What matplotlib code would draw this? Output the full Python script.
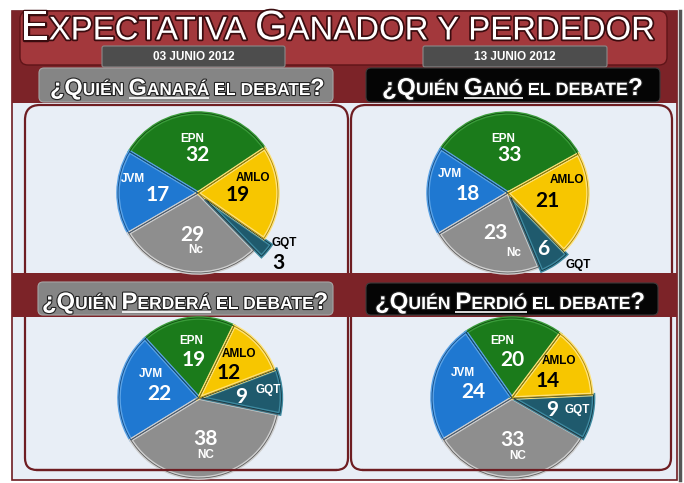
import matplotlib
matplotlib.use("Agg")
import matplotlib.pyplot as plt
import matplotlib.patheffects as pe
from matplotlib.patches import FancyBboxPatch, Rectangle, Wedge
import numpy as np

# -----------------------------
# data
# -----------------------------
names_a = ["EPN", "JVM", "Nc", "GQT", "AMLO"]
names_b = ["EPN", "JVM", "NC", "GQT", "AMLO"]
ganara = [32, 17, 29, 3, 19]
gano = [33, 18, 23, 6, 21]
perdera = [19, 22, 38, 9, 12]
perdio = [20, 24, 33, 9, 14]

fechas = ["03 JUNIO 2012", "13 JUNIO 2012"]

face = ["#1b7b1b", "#1f78d1", "#8e8e8e", "#1f5a6d", "#f7c600"]
rim = ["#3a9c3a", "#5aa2e6", "#cfcfcf", "#3f8aa0", "#ffe27a"]
dark = ["#0e4a0e", "#114a85", "#5c5c5c", "#0f3442", "#a88400"]

W, H = 684, 483
RED = "#7c2328"
HEAD = "#a3383c"
LIGHT = "#e8eef6"
BORDER = "#6e1d22"

fig = plt.figure(figsize=(W / 100, H / 100), dpi=100)
bg = fig.add_axes([0, 0, 1, 1])
bg.set_xlim(0, W)
bg.set_ylim(H, 0)
bg.axis("off")
renderer = fig.canvas.get_renderer()


def rbox(x0, y0, x1, y1, r, fc, ec="none", lw=0, z=2):
    p = FancyBboxPatch((x0, y0), x1 - x0, y1 - y0,
                       boxstyle=f"round,pad=0,rounding_size={r}",
                       fc=fc, ec=ec, lw=lw, zorder=z)
    bg.add_patch(p)


def caps_line(parts, x0, x1, ybase, big, small, family, weight, effects, z=8):
    # parts: (text, big?, underline?, space after?)
    texts = []
    for s, is_big, under, gap in parts:
        t = bg.text(0, ybase, s, fontsize=big if is_big else small, family=family,
                    weight=weight, color="white", ha="left", va="baseline",
                    path_effects=effects, zorder=z)
        texts.append(t)

    def measure(k):
        ws = [t.get_window_extent(renderer).width for t in texts]
        a = bg.text(0, 0, "I I", fontsize=small * k, family=family, weight=weight)
        b = bg.text(0, 0, "II", fontsize=small * k, family=family, weight=weight)
        sp = a.get_window_extent(renderer).width - b.get_window_extent(renderer).width
        a.remove()
        b.remove()
        return ws, sp

    ws, sp = measure(1.0)
    total = sum(ws) + sp * sum(1 for p in parts if p[3])
    k = (x1 - x0) / total
    for t in texts:
        t.set_fontsize(t.get_fontsize() * k)
    ws, sp = measure(k)
    x = x0
    ustart = None
    for t, w, p in zip(texts, ws, parts):
        t.set_x(x)
        if p[2] and ustart is None:
            ustart = x
        if p[2]:
            uend = x + w
        x += w + (sp if p[3] else 0)
    if ustart is not None:
        bg.plot([ustart, uend], [ybase + 3, ybase + 3], color="white", lw=1.2,
                zorder=z, solid_capstyle="butt")


# -----------------------------
# background frames
# -----------------------------
bg.add_patch(Rectangle((12, 11), 665, 469, fc=LIGHT, ec=BORDER, lw=1.2, zorder=1))
bg.plot([680, 680], [11, 480], color="#555555", lw=2.5, zorder=1)
bg.add_patch(Rectangle((12, 11), 665, 92, fc=RED, ec="none", zorder=2))
rbox(20, 11, 667, 65, 8, HEAD, "#5e1418", 1.0, z=3)

rbox(25, 105, 348, 300, 15, LIGHT, BORDER, 1.6)
rbox(351, 105, 672, 300, 15, LIGHT, BORDER, 1.6)
rbox(25, 290, 348, 470, 12, LIGHT, BORDER, 1.6)
rbox(351, 290, 671, 470, 12, LIGHT, BORDER, 1.6)
bg.add_patch(Rectangle((12, 273), 665, 44, fc=RED, ec="none", zorder=4))

# date boxes
for (x0, x1), f in zip([(102, 285), (423, 607)], fechas):
    rbox(x0, 46, x1, 67, 2, "#4d4d4d", "#8a8a8a", 0.8, z=5)
    bg.text((x0 + x1) / 2, 57.5, f, fontsize=8.5, family="Liberation Sans",
            weight="bold", color="white", ha="center", va="center", zorder=6)

# question boxes
rbox(39, 68, 333, 102, 5, "#858585", "#a5a5a5", 0.8, z=5)
rbox(366, 68, 660, 102, 5, "#050505", "#3a3a3a", 0.8, z=5)
rbox(38, 282, 333, 315, 5, "#858585", "#a5a5a5", 0.8, z=5)
rbox(366, 283, 658, 315, 5, "#050505", "#3a3a3a", 0.8, z=5)

# -----------------------------
# titles
# -----------------------------
title_fx = [pe.withStroke(linewidth=2.5, foreground="#3a0c0f")]
caps_line([("E", True, False, False), ("XPECTATIVA", False, False, True),
           ("G", True, False, False), ("ANADOR", False, False, True),
           ("Y", False, False, True), ("PERDEDOR", False, False, False)],
          21, 655, 39.5, 24, 19, "Liberation Sans", "normal", title_fx)

q_fx = [pe.withStroke(linewidth=1.6, foreground="#222222")]
questions = [
    ("G", "ANARÁ", 50, 325, 95),
    ("G", "ANÓ", 382, 642, 95),
    ("P", "ERDERÁ", 42, 328, 309),
    ("P", "ERDIÓ", 375, 645, 309),
]
for cap, rest, x0, x1, yb in questions:
    caps_line([("¿Q", True, False, False), ("UIÉN", False, False, True),
               (cap, True, True, False), (rest, False, True, True),
               ("EL", False, False, True), ("DEBATE", False, False, False),
               ("?", True, False, False)],
              x0, x1, yb, 17, 12.5, "Liberation Sans", "bold", q_fx)

# -----------------------------
# pies
# -----------------------------
pies = [
    dict(vals=ganara, names=names_a, c=(198, 193), start=33.7,
         explode=[0, 0, 0, 0.12, 0], gqt_r=1.2, gqt_num="black", gqt_name="black",
         off=[(-5, -16), (-25, -16), (3, 15), (5, -20), (15, -17)]),
    dict(vals=gano, names=names_a, c=(508, 193), start=29,
         explode=[0, 0, 0, 0.06, 0], gqt_r=0.75, gqt_num="white", gqt_name="black",
         off=[(-6, -16), (-18, -20), (18, 20), (34, 16), (19, -21)]),
    dict(vals=perdera, names=names_b, c=(199, 398), start=64,
         explode=[0, 0, 0, 0.03, 0], gqt_r=0.5, gqt_num="white", gqt_name="white",
         off=[(-2, -19), (-8, -20), (0, 16), (27, -7), (10, -19)]),
    dict(vals=perdio, names=names_b, c=(512, 398), start=53,
         explode=[0, 0, 0, 0.02, 0], gqt_r=0.5, gqt_num="white", gqt_name="white",
         off=[(-11, -19), (-10, -19), (5, 16), (25, 0), (12, -20)]),
]

R = 80
M = 1.4
for p in pies:
    cx, cy = p["c"]
    ax = fig.add_axes([(cx - R * M) / W, 1 - (cy + R * M) / H, 2 * R * M / W, 2 * R * M / H])
    ax.patch.set_alpha(0)
    wedges, _ = ax.pie(p["vals"], colors=face, startangle=p["start"],
                       explode=p["explode"], radius=1)
    for i, w in enumerate(wedges):
        w.set_edgecolor(rim[i])
        w.set_linewidth(2.6)
        w.set_clip_on(False)
        ax.add_patch(Wedge(w.center, w.r, w.theta1, w.theta2, fill=False,
                           ec=dark[i], lw=0.6, clip_on=False))
    ax.set_xlim(-M, M)
    ax.set_ylim(-M, M)
    ax.axis("off")

    for i, w in enumerate(wedges):
        mid = np.deg2rad((w.theta1 + w.theta2) / 2)
        r = p["gqt_r"] if i == 3 else 0.5
        x = w.center[0] + r * np.cos(mid)
        y = w.center[1] + r * np.sin(mid)
        if i == 4:
            ncol, lcol = "black", "black"
        elif i == 3:
            ncol, lcol = p["gqt_num"], p["gqt_name"]
        else:
            ncol, lcol = "white", "white"
        ax.annotate(str(p["vals"][i]), (x, y), xytext=(0, -2), textcoords="offset pixels",
                    ha="center", va="center", fontsize=15, family="Lato",
                    weight="bold", color=ncol, annotation_clip=False)
        dx, dy = p["off"][i]
        ax.annotate(p["names"][i], (x, y), xytext=(dx, -dy - 2), textcoords="offset pixels",
                    ha="center", va="center", fontsize=8.5, family="Liberation Sans",
                    weight="bold", color=lcol, annotation_clip=False)

# panel bottom edges over the pies
top = fig.add_axes([0, 0, 1, 1], zorder=20)
top.set_xlim(0, W)
top.set_ylim(H, 0)
top.axis("off")
top.plot([37, 336], [470, 470], color=BORDER, lw=1.6)
top.plot([363, 659], [470, 470], color=BORDER, lw=1.6)

plt.savefig("out.png", dpi=100)
